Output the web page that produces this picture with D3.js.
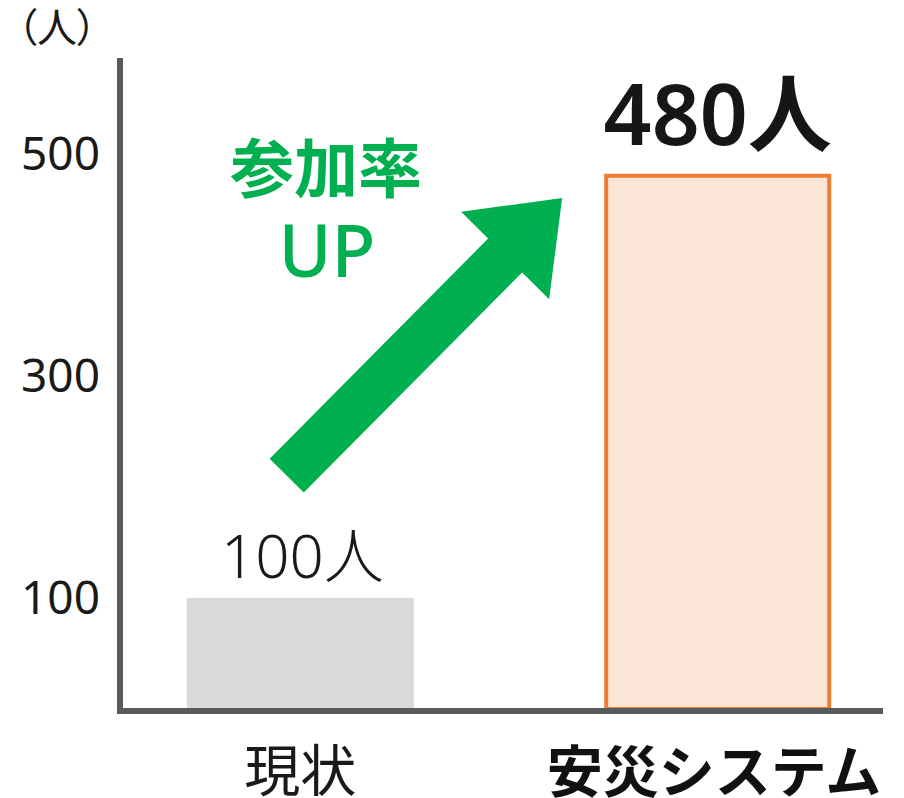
<!DOCTYPE html>
<html><head><meta charset="utf-8">
<script src="https://cdn.jsdelivr.net/npm/d3@7"></script>
<style>
html,body{margin:0;padding:0;background:#fff;}
text{font-family:"Noto Sans","Noto Sans CJK JP",sans-serif;}
.cjk{font-family:"Noto Sans CJK JP","Noto Sans",sans-serif;}
</style></head>
<body>
<svg id="c" width="904" height="798"></svg>
<script>
const categories = ["現状", "安災システム"];
const values = [100, 480];
const valueLabels = ["100人", "480人"];
const yTicks = [100, 300, 500];
const yUnit = "（人）";
const annotationLines = ["参加率", "UP"];

const svg = d3.select("#c");
const x = d3.scaleBand().domain(categories).range([120, 898]).paddingInner(0.456).paddingOuter(0.16);
const y = d3.scaleLinear().domain([0, 586]).range([709, 58]);

// bars
svg.append("rect")
  .attr("x", x(categories[0])).attr("y", y(values[0]))
  .attr("width", x.bandwidth()).attr("height", y(0) - y(values[0]))
  .attr("fill", "#d9d9d9");
svg.append("rect")
  .attr("x", x(categories[1]) + 2).attr("y", y(values[1]))
  .attr("width", x.bandwidth() - 4).attr("height", y(0) - y(values[1]))
  .attr("fill", "#fbe5d6").attr("stroke", "#ed7d31").attr("stroke-width", 4);

// axes
svg.append("line").attr("x1", 120).attr("x2", 120).attr("y1", y.range()[1]).attr("y2", 714)
  .attr("stroke", "#575b5e").attr("stroke-width", 6);
svg.append("line").attr("x1", 117).attr("x2", 883).attr("y1", 711).attr("y2", 711)
  .attr("stroke", "#575b5e").attr("stroke-width", 6);

// y tick labels
svg.selectAll(".yt").data(yTicks).enter().append("text")
  .attr("x", 100).attr("y", d => y(d) + 16)
  .attr("text-anchor", "end").attr("font-size", 46).attr("fill", "#1a1a1a")
  .text(d => d);

// unit
svg.append("text").attr("class", "cjk").attr("x", 57).attr("y", 42)
  .attr("text-anchor", "middle").attr("font-size", 40).attr("fill", "#1a1a1a")
  .style("font-feature-settings", "'palt'")
  .text(yUnit);

// x labels
svg.append("text").attr("class", "cjk")
  .attr("x", x(categories[0]) + x.bandwidth() / 2).attr("y", 791)
  .attr("text-anchor", "middle").attr("font-size", 56).attr("fill", "#1a1a1a")
  .text(categories[0]);
svg.append("text").attr("class", "cjk")
  .attr("x", 714).attr("y", 792)
  .attr("text-anchor", "middle").attr("font-size", 56).attr("font-weight", 700).attr("fill", "#111")
  .text(categories[1]);

// value labels
svg.append("text")
  .attr("x", x(categories[0]) + x.bandwidth() / 2 + 2).attr("y", y(values[0]) - 20)
  .attr("text-anchor", "middle").attr("font-size", 60).attr("font-weight", 300).attr("fill", "#1a1a1a")
  .text(valueLabels[0]);
svg.append("text")
  .attr("x", x(categories[1]) + x.bandwidth() / 2).attr("y", y(values[1]) - 31)
  .attr("text-anchor", "middle").attr("font-size", 84).attr("font-weight", 600).attr("fill", "#161616")
  .text(valueLabels[1]);

// arrow annotation
function arrowPath(x0, y0, x1, y1, sw, hw, hl) {
  const dx = x1 - x0, dy = y1 - y0, L = Math.hypot(dx, dy);
  const ux = dx / L, uy = dy / L, px = -uy, py = ux;
  const bx = x1 - ux * hl, by = y1 - uy * hl;
  const pts = [
    [x0 + px * sw / 2, y0 + py * sw / 2],
    [bx + px * sw / 2, by + py * sw / 2],
    [bx + px * hw / 2, by + py * hw / 2],
    [x1, y1],
    [bx - px * hw / 2, by - py * hw / 2],
    [bx - px * sw / 2, by - py * sw / 2],
    [x0 - px * sw / 2, y0 - py * sw / 2]
  ];
  return "M" + pts.map(p => p.join(",")).join("L") + "Z";
}
const tailX = x(categories[0]) + x.bandwidth() * 0.44, tailY = y(210);
const tipX = x(categories[1]) - 42, tipY = y(460);
svg.append("path").attr("d", arrowPath(tailX, tailY, tipX, tipY, 48, 124, 81)).attr("fill", "#00b050");

svg.append("text").attr("class", "cjk").attr("x", 326).attr("y", 192)
  .attr("text-anchor", "middle").attr("font-size", 64).attr("font-weight", 700).attr("fill", "#00b050")
  .text(annotationLines[0]);
svg.append("text").attr("x", 327).attr("y", 277)
  .attr("text-anchor", "middle").attr("font-size", 72).attr("font-weight", 500).attr("fill", "#00b050")
  .text(annotationLines[1]);
</script>
</body></html>
